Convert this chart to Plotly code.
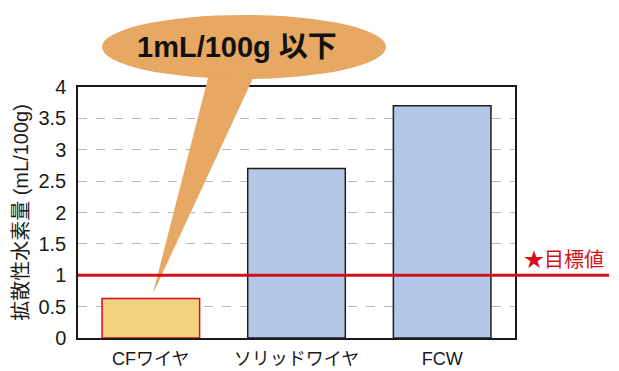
import plotly.graph_objects as go

# Diffusible hydrogen content per wire type (mL/100g)
categories = ["CFワイヤ", "ソリッドワイヤ", "FCW"]
hydrogen = [0.63, 2.7, 3.7]
fill_colors = ["#f2d27c", "#b3c8e6", "#b3c8e6"]
edge_colors = ["#d2101c", "#1e1e1e", "#1e1e1e"]
target_value = 1.0
y_max = 4.0
y_ticks = [0, 0.5, 1, 1.5, 2, 2.5, 3, 3.5, 4]

W, H = 619, 371
ML, MR, MT, MB = 78, 104, 87, 33
PW, PH = W - ML - MR, H - MT - MB

FONT = "Liberation Sans, Arial, Noto Sans CJK JP, sans-serif"
RED = "#d2101c"
CALLOUT = "#e6a862"


def px_x(px):
    return (px - ML) / PW


def px_y(py):
    return (H - MB - py) / PH


fig = go.Figure()
fig.add_trace(go.Bar(
    x=categories, y=hydrogen,
    marker=dict(color=fill_colors, line=dict(color=edge_colors, width=1.5)),
    width=0.67, hoverinfo="skip",
))

shapes = []
# speech-bubble tail pointing at the CF wire bar
tip_x = px_x(ML + PW / 6 + 2)
tip_y = hydrogen[0] / y_max + 0.018
shapes.append(dict(
    type="path", xref="paper", yref="paper", layer="above",
    path=f"M {px_x(209)} {px_y(74)} L {px_x(255)} {px_y(74)} L {tip_x} {tip_y} Z",
    fillcolor=CALLOUT, line=dict(width=0),
))
# speech-bubble body
shapes.append(dict(
    type="circle", xref="paper", yref="paper", layer="above",
    x0=px_x(102), x1=px_x(386), y0=px_y(79), y1=px_y(15),
    fillcolor=CALLOUT, line=dict(width=0),
))
# target line, running past the plot frame
shapes.append(dict(
    type="line", xref="paper", yref="paper", layer="above",
    x0=0, x1=px_x(609), y0=target_value / y_max, y1=target_value / y_max,
    line=dict(color=RED, width=3),
))

annotations = [
    dict(text="<b>1mL/100g 以下</b>", xref="paper", yref="paper",
         x=px_x(237), y=px_y(47), xanchor="center", yanchor="middle",
         showarrow=False,
         font=dict(family=FONT, size=29, color="#111111")),
    dict(text="★目標値", xref="paper", yref="paper",
         x=px_x(564), y=px_y(260), xanchor="center", yanchor="middle",
         showarrow=False,
         font=dict(family=FONT, size=20, color=RED)),
]

fig.update_layout(
    width=W, height=H,
    margin=dict(l=ML, r=MR, t=MT, b=MB, autoexpand=False),
    paper_bgcolor="white", plot_bgcolor="white",
    showlegend=False, bargap=0.33,
    font=dict(family=FONT, size=19, color="#1a1a1a"),
    shapes=shapes, annotations=annotations,
)
fig.update_xaxes(
    type="category", showline=True, linecolor="#1a1a1a", linewidth=1.5,
    mirror=True, showgrid=False, ticks="", ticklabelstandoff=4,
    tickfont=dict(family=FONT, size=18, color="#1a1a1a"),
)
fig.update_yaxes(
    range=[0, y_max], tickvals=y_ticks, showline=True, linecolor="#1a1a1a",
    linewidth=1.5, mirror=True, showgrid=True, gridcolor="#b8b8b8",
    griddash="dash", gridwidth=1, zeroline=False, ticks="",
    ticklabelstandoff=6,
    tickfont=dict(family=FONT, size=20, color="#1a1a1a"),
    title=dict(text="拡散性水素量 (mL/100g)",
               font=dict(family=FONT, size=20, color="#1a1a1a"), standoff=4),
)

fig.write_html("out.html")
